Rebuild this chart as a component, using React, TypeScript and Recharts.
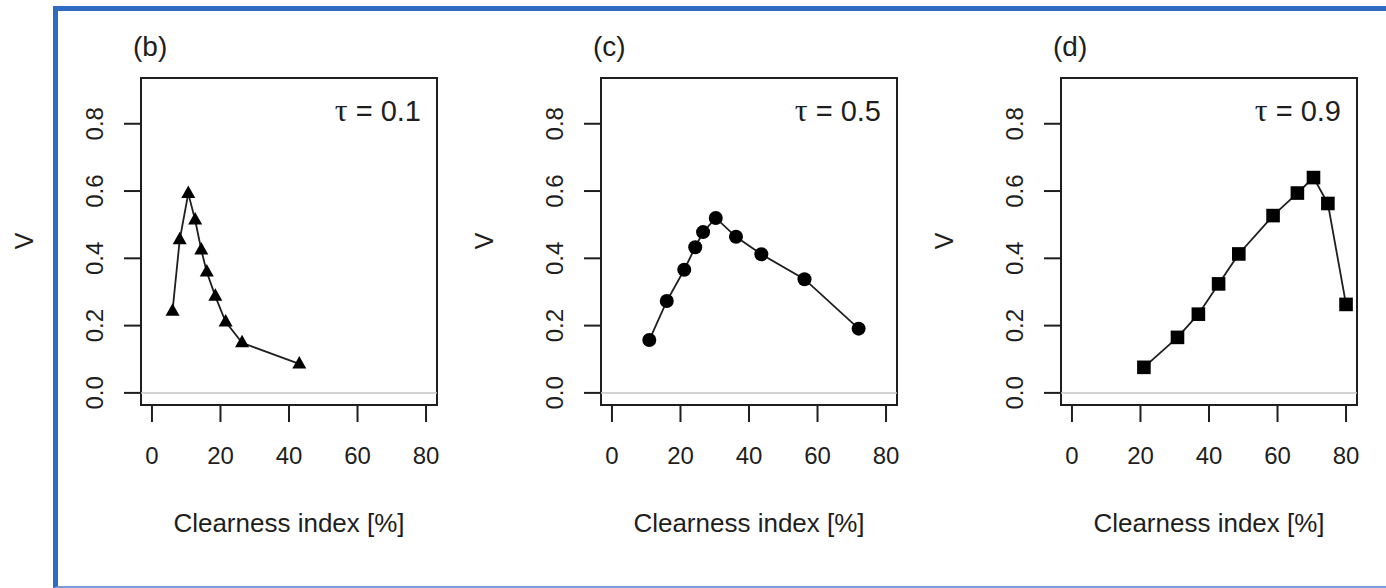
import { Line, LineChart, ReferenceArea, ReferenceLine, XAxis, YAxis } from "recharts";

const FONT = "'Liberation Sans', Arial, Helvetica, sans-serif";
const INK = "#1e1e1e";

const xTicks = [0, 20, 40, 60, 80];
const yTicks = [0, 0.2, 0.4, 0.6, 0.8];

// (b) tau = 0.1
const clearB = [6.0, 8.1, 10.6, 12.6, 14.4, 16.0, 18.5, 21.5, 26.3, 43.0];
const vB = [0.243, 0.455, 0.593, 0.514, 0.425, 0.359, 0.287, 0.211, 0.149, 0.086];
// (c) tau = 0.5
const clearC = [10.9, 16.0, 21.1, 24.3, 26.6, 30.3, 36.2, 43.6, 56.2, 72.0];
const vC = [0.157, 0.273, 0.366, 0.433, 0.478, 0.52, 0.464, 0.412, 0.338, 0.191];
// (d) tau = 0.9
const clearD = [21.0, 30.8, 36.9, 42.8, 48.7, 58.7, 65.8, 70.5, 74.7, 80.0];
const vD = [0.076, 0.165, 0.234, 0.324, 0.413, 0.527, 0.594, 0.64, 0.563, 0.263];

const X_DOMAIN: [number, number] = [-3.2, 83.2];
const Y_DOMAIN: [number, number] = [-0.036, 0.936];

const Triangle = (props: any) => {
  const { cx, cy } = props;
  if (cx == null || cy == null) return null;
  return (
    <polygon
      points={`${cx},${cy - 8} ${cx + 7},${cy + 4.5} ${cx - 7},${cy + 4.5}`}
      fill="#000"
    />
  );
};

const Dot = (props: any) => {
  const { cx, cy } = props;
  if (cx == null || cy == null) return null;
  return <circle cx={cx} cy={cy} r={7} fill="#000" />;
};

const Square = (props: any) => {
  const { cx, cy } = props;
  if (cx == null || cy == null) return null;
  return <rect x={cx - 6.8} y={cy - 6.8} width={13.6} height={13.6} fill="#000" />;
};

const YTick = (props: any) => {
  const { x, y, payload } = props;
  return (
    <text
      transform={`translate(${x},${y}) rotate(-90)`}
      textAnchor="middle"
      fill={INK}
      fontSize={24}
      fontFamily={FONT}
    >
      {Number(payload.value).toFixed(1)}
    </text>
  );
};

type PanelProps = {
  left: number;
  tag: string;
  tau: string;
  xs: number[];
  vs: number[];
  marker: (p: any) => any;
};

const Panel = ({ left, tag, tau, xs, vs, marker }: PanelProps) => {
  const data = xs.map((x, i) => ({ x, v: vs[i] }));
  return (
    <div style={{ position: "absolute", left, top: 0 }}>
      <LineChart
        width={460}
        height={588}
        data={data}
        margin={{ top: 78, right: 23, bottom: 133, left: 81 }}
      >
        <XAxis
          type="number"
          dataKey="x"
          domain={X_DOMAIN}
          ticks={xTicks}
          allowDataOverflow
          interval={0}
          axisLine={false}
          tickSize={17}
          tickMargin={25}
          tickLine={{ stroke: INK, strokeWidth: 2 }}
          tick={{ fill: INK, fontSize: 24, fontFamily: FONT }}
          height={50}
        />
        <YAxis
          type="number"
          domain={Y_DOMAIN}
          ticks={yTicks}
          allowDataOverflow
          interval={0}
          axisLine={false}
          tickSize={17}
          tickMargin={21}
          tickLine={{ stroke: INK, strokeWidth: 2 }}
          tick={<YTick />}
          width={60}
        />
        <ReferenceLine y={0} stroke="#c4c4c4" strokeWidth={1.5} />
        <ReferenceArea
          x1={X_DOMAIN[0]}
          x2={X_DOMAIN[1]}
          y1={Y_DOMAIN[0]}
          y2={Y_DOMAIN[1]}
          fill="none"
          fillOpacity={0}
          stroke={INK}
          strokeWidth={2}
        />
        <Line
          type="linear"
          dataKey="v"
          stroke={INK}
          strokeWidth={1.8}
          dot={marker}
          activeDot={false}
          isAnimationActive={false}
        />
        <text x={133} y={56} fontSize={28} fill={INK} fontFamily={FONT}>
          {tag}
        </text>
        <text x={421} y={121} fontSize={29} fill={INK} fontFamily={FONT} textAnchor="end">
          <tspan fontFamily="'Liberation Serif', 'DejaVu Serif', serif" fontSize={32}>τ</tspan>
          <tspan> = {tau}</tspan>
        </text>
        <text
          transform="translate(33,241) rotate(-90)"
          textAnchor="middle"
          fontSize={25}
          fill={INK}
          fontFamily={FONT}
        >
          V
        </text>
        <text x={289} y={532} textAnchor="middle" fontSize={26} fill={INK} fontFamily={FONT}>
          Clearness index [%]
        </text>
      </LineChart>
    </div>
  );
};

export default function App() {
  return (
    <div
      style={{
        position: "absolute",
        left: 0,
        top: 0,
        width: 1386,
        height: 588,
        background: "#fff",
        overflow: "hidden",
      }}
    >
      <div
        style={{
          position: "absolute",
          left: 53,
          top: 6,
          width: 1400,
          height: 575,
          borderLeft: "5px solid #2f6cc1",
          borderTop: "5px solid #2f6cc1",
          borderBottom: "2px solid #7a9fd8",
        }}
      />
      <Panel left={0} tag="(b)" tau="0.1" xs={clearB} vs={vB} marker={Triangle} />
      <Panel left={460} tag="(c)" tau="0.5" xs={clearC} vs={vC} marker={Dot} />
      <Panel left={920} tag="(d)" tau="0.9" xs={clearD} vs={vD} marker={Square} />
    </div>
  );
}
